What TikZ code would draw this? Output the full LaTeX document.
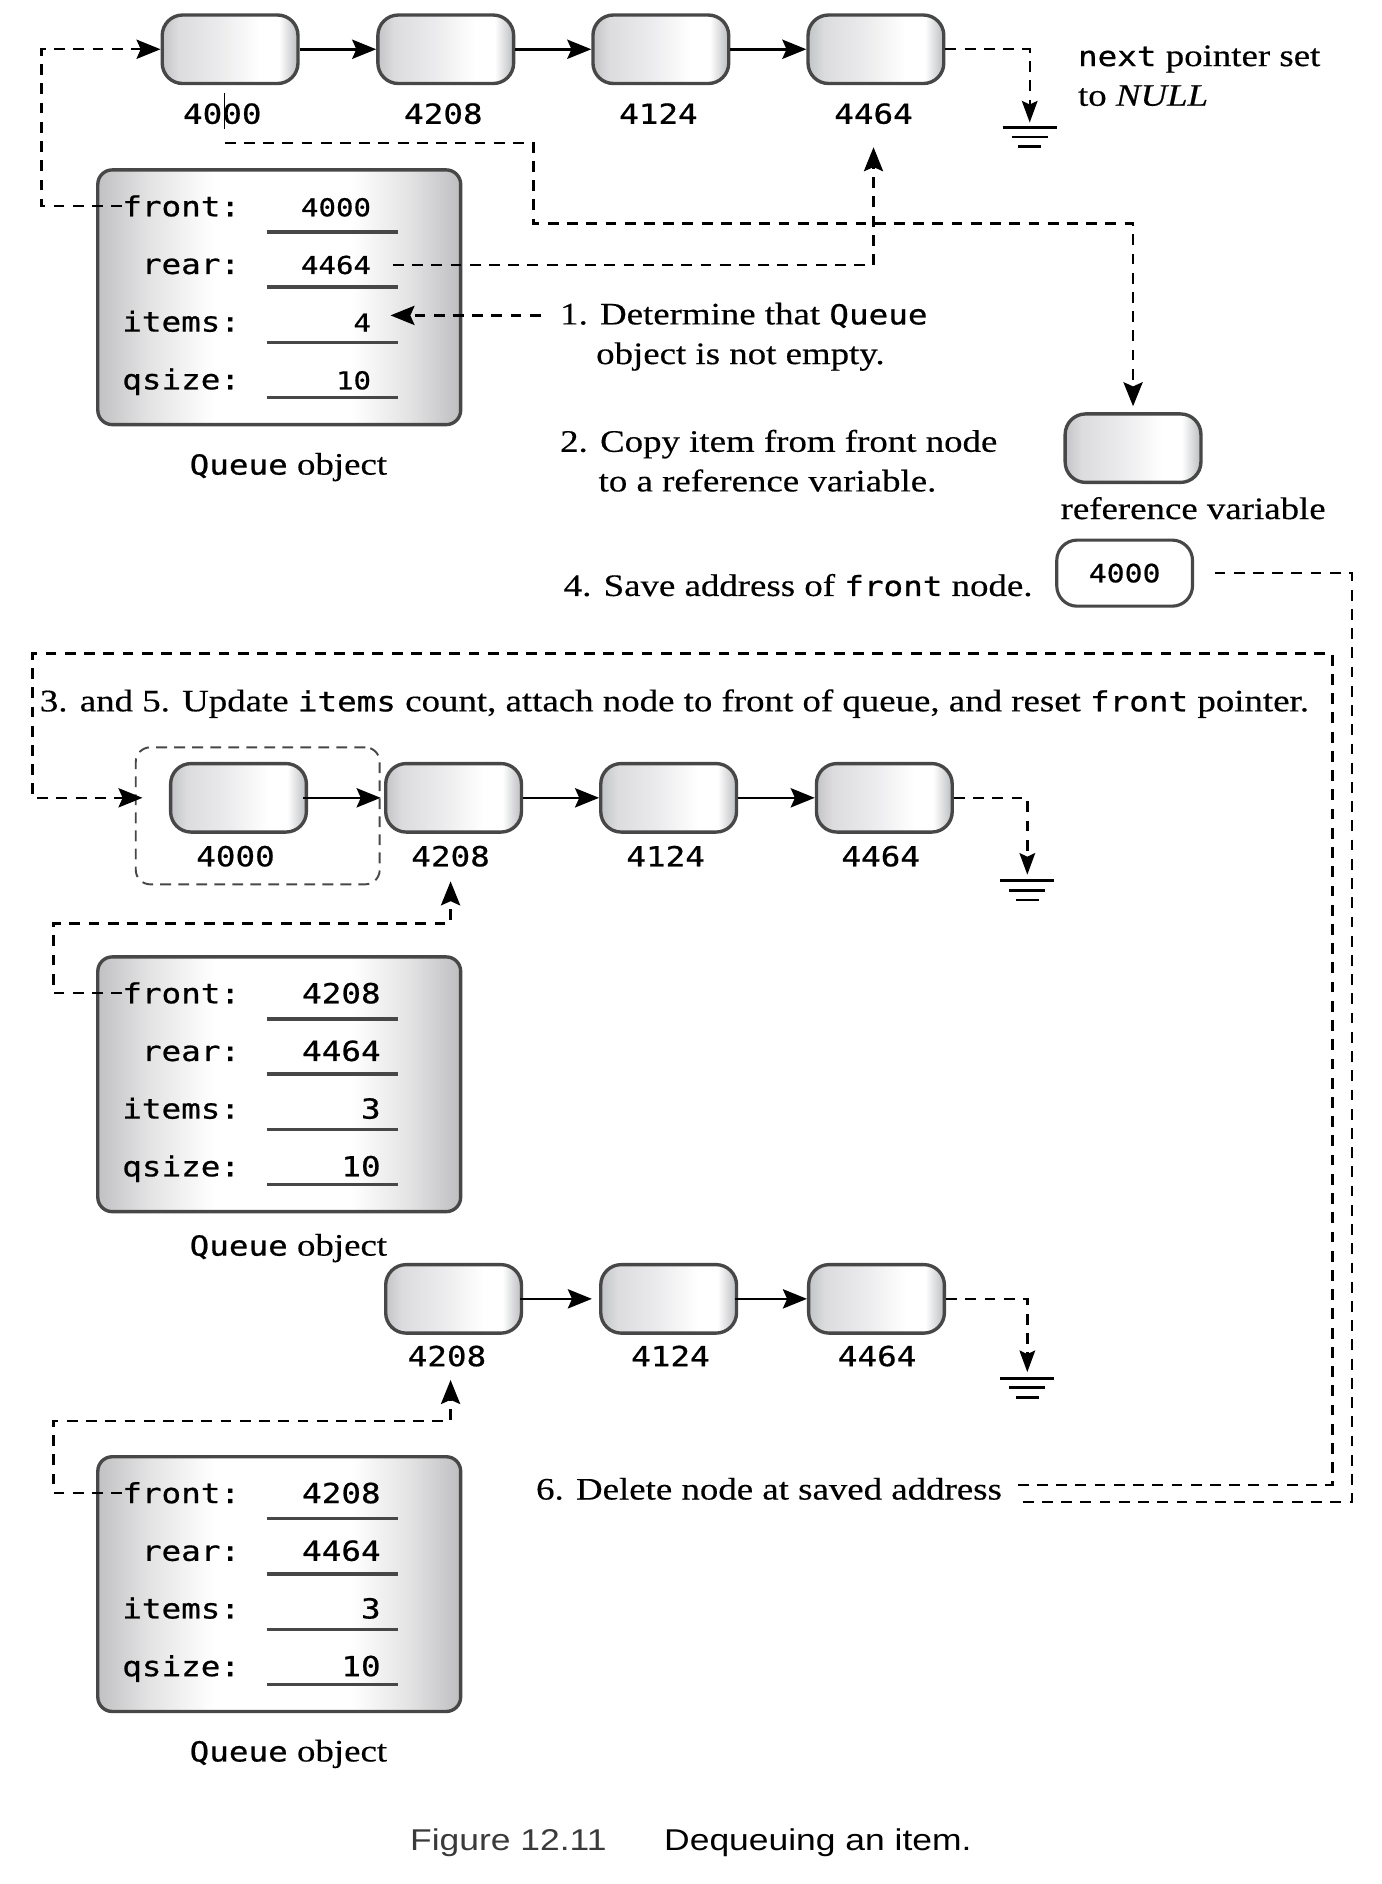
\documentclass[tikz,border=0pt]{standalone}
\usepackage{fontspec}
\setmainfont{Liberation Serif}[FakeStretch=1.18, FakeBold=0.4]
\newfontfamily\codefont{DejaVu Sans Mono}[FakeStretch=1.18, FakeBold=0.7]
\newfontfamily\capfont{Liberation Sans}[FakeStretch=1.18]
\usetikzlibrary{arrows.meta}

\definecolor{edge}{HTML}{474747}
\definecolor{nA}{HTML}{C3C4C7}
\definecolor{nB}{HTML}{DCDCDE}
\definecolor{nM}{HTML}{EAEAEC}
\definecolor{nC}{HTML}{BBBCBF}
\definecolor{bA}{HTML}{C1C1C3}
\definecolor{bB}{HTML}{E3E3E4}
\definecolor{bC}{HTML}{BEBEC0}
\definecolor{capgray}{HTML}{3A3A3A}

% horizontal fills: the path spans 25bp..75bp of the shading
\pgfdeclarehorizontalshading{nodeshade}{100bp}{color(0bp)=(nA); color(25bp)=(nA); color(31bp)=(nB); color(45bp)=(nM); color(61bp)=(white); color(68bp)=(white); color(75bp)=(nC); color(100bp)=(nC)}
\pgfdeclarehorizontalshading{boxshade}{100bp}{color(0bp)=(bA); color(25bp)=(bA); color(32bp)=(bB); color(41bp)=(white); color(60bp)=(white); color(68bp)=(bB); color(75bp)=(bC); color(100bp)=(bC)}

\newcommand\mono[1]{{\codefont\fontsize{23}{27}\selectfont #1}}

\tikzset{
  cell/.style={draw=edge, line width=2.8pt, rounded corners=17pt, minimum width=113pt,
    minimum height=57pt, inner sep=0pt, shading=nodeshade},
  qbox/.style={draw=edge, line width=2.8pt, rounded corners=12pt, minimum width=302pt,
    minimum height=212pt, inner sep=0pt, shading=boxshade},
  addrbox/.style={draw=edge, line width=2.6pt, fill=white, rounded corners=17pt,
    minimum width=113pt, minimum height=55pt, inner sep=0pt,
    font=\codefont\fontsize{21}{25}\selectfont},
  holdbox/.style={draw=edge, line width=1.6pt, dash pattern=on 9pt off 6pt,
    rounded corners=12pt, minimum width=203pt, minimum height=114pt, inner sep=0pt},
  addr/.style={anchor=base, inner sep=0pt, font=\codefont\fontsize{23}{27}\selectfont},
  fld/.style={anchor=base east, inner sep=0pt, font=\codefont\fontsize{23}{27}\selectfont},
  txt/.style={anchor=base west, inner sep=0pt, font=\fontsize{26}{32}\selectfont},
  ctxt/.style={anchor=base, inner sep=0pt, font=\fontsize{26}{32}\selectfont},
  arrowend/.style={-{Stealth[length=20pt,width=16pt,inset=3.5pt]}},
  link/.style={arrowend, line width=2.2pt},
  ptr/.style={line width=2pt, dash pattern=on 9pt off 7pt},
  ptrtip/.style={ptr, arrowend},
  nulltip/.style={ptr, -{Stealth[length=18pt,width=13pt,inset=3pt]}},
  gnd/.style={line width=2.4pt},
  uline/.style={draw=edge, line width=2.8pt},
}

% Queue object box: name, top, front, rear, items, qsize, value x, value size
\newcommand\queueobj[8]{%
  \node[qbox, anchor=north west] (#1) at (80,#2) {};
  \node[fld] (#1-front) at (200,{#2+40}) {front:};
  \node[fld] (#1-rear)  at (200,{#2+88}) {rear:};
  \node[fld] (#1-items) at (200,{#2+136}) {items:};
  \node[fld] (#1-qsize) at (200,{#2+184}) {qsize:};
  \node[fld, font=\codefont\fontsize{#8}{#8}\selectfont] (#1-v1) at (#7,{#2+40}) {#3};
  \node[fld, font=\codefont\fontsize{#8}{#8}\selectfont] (#1-v2) at (#7,{#2+88}) {#4};
  \node[fld, font=\codefont\fontsize{#8}{#8}\selectfont] (#1-v3) at (#7,{#2+136}) {#5};
  \node[fld, font=\codefont\fontsize{#8}{#8}\selectfont] (#1-v4) at (#7,{#2+184}) {#6};
  \foreach \u in {53,99,145,191} \draw[uline] (222,{#2+\u}) -- (331,{#2+\u});
}

% NULL (ground) mark: x, y of the top bar
\newcommand\nullmark[2]{%
  \draw[gnd] ({#1-22.5},#2) -- ({#1+22.5},#2);
  \draw[gnd] ({#1-15},{#2+8}) -- ({#1+15},{#2+8});
  \draw[gnd] ({#1-9.5},{#2+16}) -- ({#1+9.5},{#2+16});
}

\begin{document}
\begin{tikzpicture}[x=1pt, y=-1pt]
\useasboundingbox (0,0) rectangle (1150,1568);

% ---------- initial list ----------
\node[cell] (t1) at (191.5,41) {};
\node[cell] (t2) at (371,41) {};
\node[cell] (t3) at (550,41) {};
\node[cell] (t4) at (729,41) {};
\node[addr] (l1) at (185,103) {4000};
\node[addr] (l2) at (369,103) {4208};
\node[addr] (l3) at (548,103) {4124};
\node[addr] (l4) at (727,103) {4464};
\draw[link] (t1) -- (t2);
\draw[link] (t2) -- (t3);
\draw[link] (t3) -- (t4);
\coordinate (n1) at (857,102);
\draw[nulltip] (t4.east) -| (n1);
\nullmark{857}{106}
\node[txt] (nx1) at (897,55) {\mono{next} pointer set};
\node[txt] (nx2) at (897,88) {to \textit{NULL}};

\queueobj{q1}{140}{4000}{4464}{4}{10}{309}{20.5}
\node[ctxt] (qo1) at (240,395) {\mono{Queue} object};

% pointers of the first Queue object
\draw[ptrtip] (q1-front.west) -- ++(-67,0) |- (t1.west);
\draw[ptrtip] ([xshift=18pt]q1-v2.east) -| ([yshift=-19pt]l4.south);

% steps 1, 2, 4
\node[txt] (s1) at (466,270) {1. Determine that \mono{Queue}};
\node[txt] (s1b) at (496,303) {object is not empty.};
\coordinate (s1a) at ([xshift=-16pt]s1.west);
\coordinate (i1) at ([xshift=16pt]q1-v3.east);
\draw[ptrtip] (s1a) -- (s1a -| i1);

\node[txt] (s2) at (466,376) {2. Copy item from front node};
\node[txt] (s2b) at (498,409) {to a reference variable.};

\node[cell] (ref) at (943,373) {};
\node[ctxt] (reflab) at (993,432) {reference variable};
\draw[line width=1pt] (187,77) -- (187,107);
\coordinate (p0) at (187,119);
\draw[ptrtip, shorten >=5pt] (p0) -- (444,119) -- (444,186) -| (ref.north);

\node[txt] (s4) at (469,496) {4. Save address of \mono{front} node.};
\node[addrbox] (sv) at (936,477) {4000};

% step 6 and the saved address
\node[txt] (s6) at (446,1248) {6. Delete node at saved address};
\coordinate (e6) at ([xshift=13pt]s6.east);
\coordinate (lowr) at (1125,1250);
\coordinate (upr) at (1109,1236);
\draw[ptr] ([xshift=17pt]sv.east) -| (lowr) -- (e6 |- lowr);

% steps 3 and 5
\node[txt] (s35) at (33,592) {3. and 5. Update \mono{items} count, attach node to front of queue, and reset \mono{front} pointer.};

\node[holdbox] (hold) at (214.5,679) {};
\node[cell] (mA) at (198.5,664) {};
\node[cell] (mB) at (377.5,664) {};
\node[cell] (mC) at (556.5,664) {};
\node[cell] (mD) at (736,664) {};
\node[addr] (ma) at (196,721) {4000};
\node[addr] (mb) at (375,721) {4208};
\node[addr] (mc) at (554,721) {4124};
\node[addr] (md) at (733,721) {4464};
\draw[link] ([xshift=-4pt]mA.east) -- (hold.east |- mA.east);
\draw[link] (mB) -- (mC);
\draw[link] (mC) -- (mD);
\coordinate (n2) at (855,728);
\draw[nulltip] (mD.east) -| (n2);
\nullmark{855}{733}

\draw[ptrtip] (e6 |- upr) -- (upr) -- (1109,544) -- (27,544) |- ([xshift=-22pt]mA.west);

\queueobj{q2}{795}{4208}{4464}{3}{10}{317}{23}
\node[ctxt] (qo2) at (240,1045) {\mono{Queue} object};
\coordinate (m2) at ([yshift=-12pt]mb.south);
\draw[ptrtip] (q2-front.west) -- ++(-57,0) |- ([yshift=-35pt]m2) -- (m2);

% ---------- resulting list ----------
\node[cell] (bB) at (377.5,1081) {};
\node[cell] (bC) at (556.5,1081) {};
\node[cell] (bD) at (729.5,1081) {};
\node[addr] (bb) at (372,1137) {4208};
\node[addr] (bc) at (558,1137) {4124};
\node[addr] (bd) at (730,1137) {4464};
\draw[link] ([xshift=-3pt]bB.east) -- ([xshift=-6pt]bC.west);
\draw[link] ([xshift=-3pt]bC.east) -- (bD.west);
\coordinate (n3) at (855,1142);
\draw[nulltip] (bD.east) -| (n3);
\nullmark{855}{1147}

\queueobj{q3}{1211}{4208}{4464}{3}{10}{317}{23}
\node[ctxt] (qo3) at (240,1466) {\mono{Queue} object};
\coordinate (m3) at ([xshift=3pt,yshift=-11pt]bb.south);
\draw[ptrtip] (q3-front.west) -- ++(-57,0) |- ([yshift=-34pt]m3) -- (m3);

% caption
\node[anchor=base, inner sep=0pt, font=\capfont\fontsize{25}{30}\selectfont] (cap) at (575,1540)
  {\textcolor{capgray}{Figure 12.11}\hspace{48pt}Dequeuing an item.};
\end{tikzpicture}
\end{document}
